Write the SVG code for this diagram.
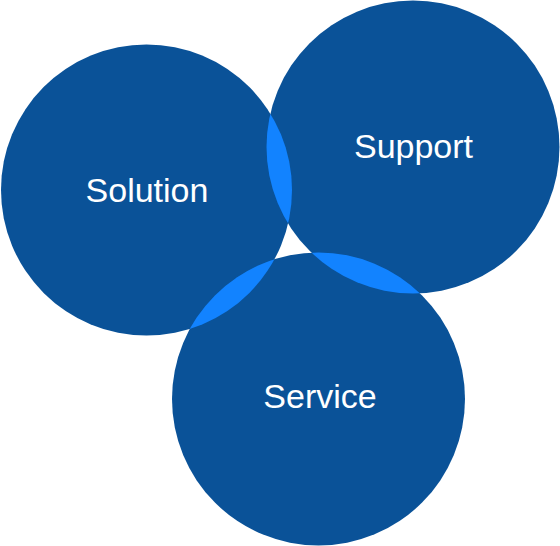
<svg xmlns="http://www.w3.org/2000/svg" width="560" height="546" viewBox="0 0 560 546">
<style>
.c{fill:#0A5298}
.o{fill:#1283FF}
.t{fill:#fff;font-family:"Liberation Sans",Arial,sans-serif;font-size:34px;text-anchor:middle}
</style>
<defs>
<clipPath id="cpSol"><circle cx="146.5" cy="190" r="145.5"/></clipPath>
<clipPath id="cpSup"><circle cx="413" cy="147" r="146.5"/></clipPath>
</defs>
<g id="solution">
<circle class="c" cx="146.5" cy="190" r="145.5"/>
<text class="t" x="147" y="202">Solution</text>
</g>
<g id="support">
<circle class="c" cx="413" cy="147" r="146.5"/>
<text class="t" x="413.5" y="158">Support</text>
</g>
<g id="service">
<circle class="c" cx="318.5" cy="399" r="146.5"/>
<text class="t" x="320" y="408">Service</text>
</g>
<g id="overlaps">
<circle class="o" cx="413" cy="147" r="146.5" clip-path="url(#cpSol)"/>
<circle class="o" cx="318.5" cy="399" r="146.5" clip-path="url(#cpSol)"/>
<circle class="o" cx="318.5" cy="399" r="146.5" clip-path="url(#cpSup)"/>
</g>
</svg>
